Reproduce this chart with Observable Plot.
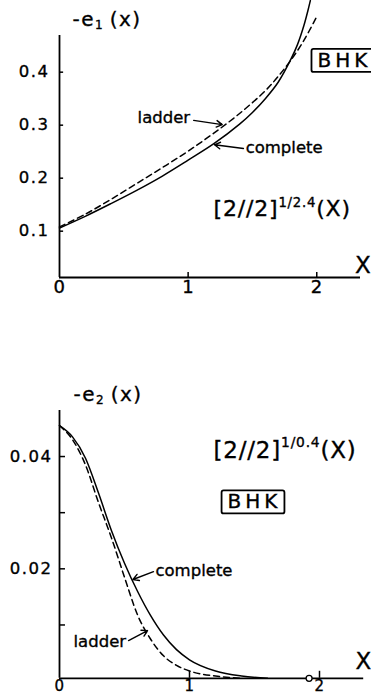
<!DOCTYPE html>
<html>
<head>
<meta charset="utf-8">
<script src="https://cdn.jsdelivr.net/npm/d3@7"></script>
<script src="https://cdn.jsdelivr.net/npm/@observablehq/plot@0.6"></script>
<style>
  html, body { margin: 0; padding: 0; background: #fff; }
  #chart { width: 371px; }
  #chart svg { display: block; }
  /* slightly heavier lettering */
  #chart text { stroke: black; stroke-width: 0.35px; }
</style>
</head>
<body>
<div id="chart"></div>
<script>
// ---- Upper panel: -e1(x) for the [2//2]^(1/2.4) approximant ----
const topCompleteX = [0, 0.2, 0.4, 0.6, 0.8, 1.0, 1.2, 1.4, 1.5, 1.6, 1.7, 1.8, 1.85, 1.9, 1.93, 1.95];
const topCompleteY = [0.106, 0.128, 0.152, 0.177, 0.204, 0.234, 0.265, 0.302, 0.324, 0.350, 0.381, 0.425, 0.452, 0.488, 0.515, 0.535];
const topLadderX = [0, 0.2, 0.4, 0.6, 0.8, 1.0, 1.2, 1.4, 1.6, 1.7, 1.8, 1.9, 2.0];
const topLadderY = [0.108, 0.132, 0.160, 0.190, 0.220, 0.251, 0.285, 0.322, 0.365, 0.392, 0.423, 0.460, 0.505];
const topYTicks = [0.1, 0.2, 0.3, 0.4];
const topXTicks = [0, 1, 2];

// ---- Lower panel: -e2(x) for the [2//2]^(1/0.4) approximant ----
const botCompleteX = [0, 0.1, 0.2, 0.3, 0.4, 0.5, 0.6, 0.7, 0.8, 0.9, 1.0, 1.2, 1.4, 1.6];
const botCompleteY = [0.0455, 0.0435, 0.0397, 0.0335, 0.0268, 0.0210, 0.0160, 0.0117, 0.0082, 0.0056, 0.0038, 0.0018, 0.0009, 0.0005];
const botLadderX = [0, 0.1, 0.2, 0.3, 0.4, 0.5, 0.6, 0.7, 0.8, 0.9, 1.0, 1.2, 1.4];
const botLadderY = [0.0455, 0.0430, 0.0385, 0.0318, 0.0255, 0.0185, 0.0118, 0.0075, 0.0045, 0.0028, 0.0018, 0.0009, 0.0005];
const botYTicks = [0.01, 0.02, 0.03, 0.04];
const botYLabels = [0.02, 0.04];
const botXTicks = [0, 1, 2];
const botMarkerX = [1.92];

const series = (xs, ys) => xs.map((x, i) => ({x, y: ys[i]}));

// text that gets a frame drawn round it, and per-label letter spacing
const boxed = new Set(["BHK"]);
const spacing = new Map([
  ["BHK", 4],
  ["-e_{1}\u2009(x)", 1.5],
  ["-e_{2}\u2009(x)", 1.5],
  ["[2//2]^{1/2.4}(X)", 0.8],
  ["[2//2]^{1/0.4}(X)", 0.8]
]);

// Turn ^{..} and _{..} into raised / lowered tspans
function scripts(el, raw) {
  const fs = parseFloat(getComputedStyle(el).fontSize) || 16;
  el.textContent = "";
  let shift = 0;
  for (const part of raw.split(/([_^]\{[^}]*\})/)) {
    if (!part) continue;
    const m = part.match(/^([_^])\{(.*)\}$/);
    const target = m ? (m[1] === "^" ? -0.45 * fs : 0.15 * fs) : 0;
    const t = document.createElementNS("http://www.w3.org/2000/svg", "tspan");
    t.textContent = m ? m[2] : part;
    if (m) t.setAttribute("font-size", (0.6 * fs).toFixed(1));
    t.setAttribute("dy", (target - shift).toFixed(2));
    shift = target;
    el.appendChild(t);
  }
}

function finish(svg) {
  // wide lettering on the tick labels
  d3.select(svg).selectAll('g[aria-label="y-axis tick label"]').attr("letter-spacing", 1.5);
  d3.select(svg).selectAll('g[aria-label="x-axis tick label"]').attr("letter-spacing", 0.5);
  d3.select(svg).selectAll("text").each(function () {
    const raw = this.textContent;
    if (spacing.has(raw)) this.setAttribute("letter-spacing", spacing.get(raw));
    if (/[_^]\{/.test(raw)) scripts(this, raw);
  });
  d3.select(svg).selectAll("text").filter(function () { return boxed.has(this.textContent); })
    .each(function () {
      const b = this.getBBox();
      const r = document.createElementNS("http://www.w3.org/2000/svg", "rect");
      r.setAttribute("x", b.x - 6);
      r.setAttribute("y", b.y + 1);
      r.setAttribute("width", b.width + 9);
      r.setAttribute("height", b.height - 1);
      r.setAttribute("rx", 2);
      r.setAttribute("fill", "none");
      r.setAttribute("stroke", "black");
      r.setAttribute("stroke-width", 1.8);
      if (this.getAttribute("transform")) r.setAttribute("transform", this.getAttribute("transform"));
      this.parentNode.insertBefore(r, this);
    });
}

const style = {fontFamily: "DejaVu Sans", fontSize: "16px", color: "black", background: "white", overflow: "visible"};
const axisW = 1.8, curveW = 1.5, dash = "6,4";
const arrowOpts = {x1: "x1", y1: "y1", x2: "x2", y2: "y2", headLength: 7, strokeWidth: 1.4};
const label = (s, opts) => Plot.text([s], {text: d => d, ...opts});

// Upper panel
const yTop0 = 0.0126;
const topPlot = Plot.plot({
  width: 371, height: 320,
  marginLeft: 59, marginRight: 11, marginTop: 35, marginBottom: 43,
  x: {domain: [0, 2.34]},
  y: {domain: [yTop0, 0.4692]},
  style,
  marks: [
    Plot.ruleX([0], {strokeWidth: axisW}),
    Plot.ruleY([yTop0], {strokeWidth: axisW}),
    Plot.ruleY(topYTicks, {y: d => d, x1: 0, x2: 0.032, strokeWidth: 1.5}),
    Plot.ruleX(topXTicks.filter(d => d > 0), {x: d => d, y1: yTop0, y2: yTop0 + 0.0095, strokeWidth: 1.5}),
    Plot.axisY({ticks: topYTicks, tickSize: 0, tickPadding: 10, tickFormat: d3.format(".1f"), fontSize: 16.5, label: null}),
    Plot.axisX({ticks: topXTicks, tickSize: 0, tickPadding: 3, tickFormat: d => String(d), fontSize: 18, label: null}),
    Plot.line(series(topLadderX, topLadderY), {x: "x", y: "y", strokeWidth: curveW, strokeDasharray: dash, curve: "catmull-rom"}),
    Plot.line(series(topCompleteX, topCompleteY), {x: "x", y: "y", strokeWidth: curveW, curve: "catmull-rom"}),
    Plot.arrow([{x1: 1.043, y1: 0.309, x2: 1.265, y2: 0.301}], arrowOpts),
    Plot.arrow([{x1: 1.43, y1: 0.256, x2: 1.205, y2: 0.263}], arrowOpts),
    label("-e_{1}\u2009(x)", {x: 0.101, y: 0.488, textAnchor: "start", lineAnchor: "bottom", fontSize: 20}),
    label("ladder", {x: 0.607, y: 0.305, textAnchor: "start", lineAnchor: "bottom", fontSize: 16.5}),
    label("complete", {x: 1.447, y: 0.2466, textAnchor: "start", lineAnchor: "bottom", fontSize: 16.5}),
    label("[2//2]^{1/2.4}(X)", {x: 1.198, y: 0.1277, textAnchor: "start", lineAnchor: "bottom", fontSize: 22}),
    label("BHK", {x: 2.215, y: 0.422, textAnchor: "middle", fontSize: 20}),
    label("X", {x: 2.358, y: 0.022, textAnchor: "middle", lineAnchor: "bottom", fontSize: 23})
  ]
});

// Lower panel
const yBot0 = 0.0005;
const botPlot = Plot.plot({
  width: 371, height: 376,
  marginLeft: 59, marginRight: 7.8, marginTop: 90, marginBottom: 18.2,
  x: {domain: [0, 2.34]},
  y: {domain: [yBot0, 0.0482]},
  style,
  marks: [
    Plot.ruleX([0], {strokeWidth: axisW}),
    Plot.ruleY([yBot0], {strokeWidth: axisW}),
    Plot.ruleY(botYTicks, {y: d => d, x1: 0, x2: 0.046, strokeWidth: 1.5}),
    Plot.ruleX(botXTicks.filter(d => d > 0), {x: d => d, y1: yBot0, y2: yBot0 + 0.00125, strokeWidth: 1.5}),
    Plot.axisY({ticks: botYLabels, tickSize: 0, tickPadding: 7, tickFormat: d3.format(".2f"), fontSize: 16.5, label: null}),
    Plot.axisX({ticks: botXTicks, tickSize: 0, tickPadding: 2, tickFormat: d => String(d), fontSize: 15, label: null}),
    Plot.line(series(botLadderX, botLadderY), {x: "x", y: "y", strokeWidth: curveW, strokeDasharray: dash, curve: "monotone-x"}),
    Plot.line(series(botCompleteX, botCompleteY), {x: "x", y: "y", strokeWidth: curveW, curve: "monotone-x"}),
    Plot.dot(botMarkerX, {x: d => d, y: yBot0, r: 3, fill: "white", stroke: "black", strokeWidth: 1.3}),
    Plot.arrow([{x1: 0.723, y1: 0.0195, x2: 0.565, y2: 0.0181}], arrowOpts),
    Plot.arrow([{x1: 0.531, y1: 0.00723, x2: 0.677, y2: 0.0090}], arrowOpts),
    label("-e_{2}\u2009(x)", {x: 0.108, y: 0.04997, textAnchor: "start", lineAnchor: "bottom", fontSize: 20}),
    label("[2//2]^{1/0.4}(X)", {x: 1.185, y: 0.0398, textAnchor: "start", lineAnchor: "bottom", fontSize: 23}),
    label("BHK", {x: 1.5, y: 0.0319, textAnchor: "middle", fontSize: 20}),
    label("complete", {x: 0.738, y: 0.0188, textAnchor: "start", lineAnchor: "bottom", fontSize: 16.5}),
    label("ladder", {x: 0.108, y: 0.00604, textAnchor: "start", lineAnchor: "bottom", fontSize: 16.5}),
    label("X", {x: 2.338, y: 0.00224, textAnchor: "middle", lineAnchor: "bottom", fontSize: 23})
  ]
});

const root = document.getElementById("chart");
root.append(topPlot, botPlot);
finish(topPlot);
finish(botPlot);
</script>
</body>
</html>
